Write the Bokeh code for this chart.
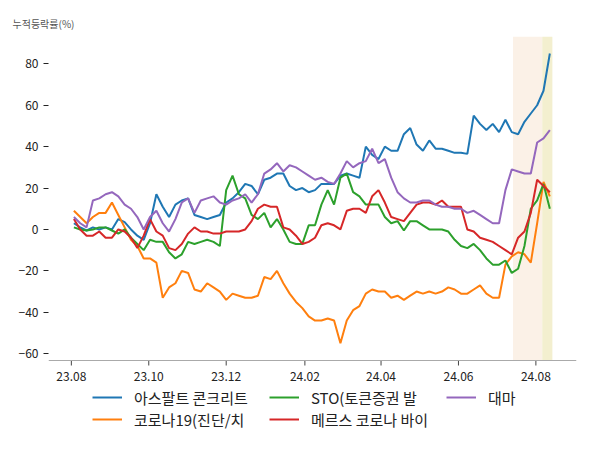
import pandas as pd
from bokeh.plotting import figure
from bokeh.core.properties import value
from bokeh.models import (Range1d, FixedTicker, Legend, LegendItem, BoxAnnotation, Title, Span)
from bokeh.embed import file_html
from bokeh.resources import INLINE

# ---- data (cumulative return %, sampled every 5 days) ----
start_date = "2023-08-03"
step = "5D"

asphalt = [3, 1, -0.5, 1, 0, 1, 0, 5, 3.5, 0, -3, -5, 3, 17, 11, 6, 12, 14, 15, 7,
           6, 5, 6, 7, 13, 15, 18, 22, 21, 17, 24, 25, 27, 27, 21, 19, 20, 18, 19, 22,
           22, 22, 26, 27, 26, 25, 40, 36, 34, 40, 38, 38, 46, 49, 41, 38, 43, 39, 39, 38,
           37, 37, 36.5, 55, 51, 48, 51, 47, 53, 47, 46, 52, 56, 60, 67, 85]
covid = [9, 6, 3, 6, 8, 8, 13, 7, 1, -5, -8, -14, -14, -16, -33, -28, -26, -20, -21, -29,
         -30, -26, -28, -30, -34, -31, -32, -33, -33, -32, -23, -24, -20, -26, -31, -35, -38, -42, -44, -44,
         -43, -44, -55, -44, -39, -37, -31, -29, -30, -30, -33, -32, -34, -32, -30, -31, -30, -31, -30, -28,
         -29, -31, -31, -29, -27, -31, -33, -33, -17, -13, -11, -12, -16, 3, 23, 16]
sto = [1, 0, -0.5, 0, 1, 1, -0.5, -2, 0, -4, -7, -10, -5, -6, -6, -11, -14, -12, -6, -7,
       -6, -5, -6, -8, 19, 26, 17, 15, 7, 5, 8, 1, 5, 0, -6, -7, -7, 2, 2, 12,
       19, 12, 25, 27, 18, 16, 12, 12, 12, 6, 3, 4, -0.5, 4, 4, 2, 0, 0, 0, -1,
       -5, -8, -9, -7, -10, -14, -17, -17, -15, -21, -19, -8, 10, 14, 22, 10]
mers = [5, 0, -3, -3, -1, -4, -4, 0, -1, -4, -9, -3, 5, -1, -3, -9, -10, -7, -2, 1,
        -1, -1, -2, -2, -1, -1, -1, 0, 4, 10, 12, 11, 11, 1, 0, -3, -7, -6, -4, 2,
        3, 2, 0, 9, 10, 10, 8, 16, 19, 13, 6, 5, 4, 8, 12, 13, 13, 12, 14, 11,
        11, 11, 0, -1, -4, -5, -6, -8, -10, -12, -4, -1, 8, 24, 21, 18]
cannabis = [6, 3, 1, 14, 15, 17, 18, 16, 12, 10, 6, 0, 6, 9, 3, -1, 5, 13, 15, 8,
            14, 15, 16, 13, 12, 14, 15, 17, 13, 17, 27, 29, 32, 28, 31, 30, 28, 26, 24, 25,
            23, 22, 27, 33, 30, 32, 33, 39, 32, 34, 25, 18, 15, 13, 13, 14, 14, 12, 11, 11,
            10, 10, 8, 9, 7, 5, 3, 3, 19, 29, 28, 27, 27, 42, 44, 48]

series_names = ["아스팔트 콘크리트", "코로나19(진단/치", "STO(토큰증권 발", "메르스 코로나 바이", "대마"]
series_values = [asphalt, covid, sto, mers, cannabis]
series_colors = ["#1f77b4", "#ff7f0e", "#2ca02c", "#d62728", "#9467bd"]

tick_dates = ["2023-08-01", "2023-10-01", "2023-12-01", "2024-02-01",
              "2024-04-01", "2024-06-01", "2024-08-01"]
tick_labels = ["23.08", "23.10", "23.12", "24.02", "24.04", "24.06", "24.08"]
y_ticks = [-60, -40, -20, 0, 20, 40, 60, 80]

band_starts = ["2024-07-14", "2024-08-06"]
band_ends = ["2024-08-06", "2024-08-14"]
band_colors = ["#fbf1e7", "#f3efcf"]

y_title = "누적등락률(%)"
FONT = "Noto Sans CJK KR"

# ---- view settings ----
X_START, X_END = "2023-07-14", "2024-09-02"
Y_LO, Y_HI = -63.3, 93.2
PLOT_H = 324          # height of the data area (px)
EXTRA_BELOW = 80      # room under the data area for the date axis and legend (px)
units_per_px = (Y_HI - Y_LO) / PLOT_H

# ---- build ----
dates = pd.date_range(start_date, periods=len(asphalt), freq=step)
x_range = Range1d(start=pd.Timestamp(X_START), end=pd.Timestamp(X_END))
y_range = Range1d(start=Y_LO - EXTRA_BELOW * units_per_px, end=Y_HI)

p = figure(x_axis_type="datetime", x_axis_location=None, x_range=x_range, y_range=y_range,
           width=592, height=442, frame_width=528, frame_height=PLOT_H + EXTRA_BELOW,
           min_border_left=48, min_border_top=36, min_border_right=16, min_border_bottom=2,
           output_backend="svg", toolbar_location=None)
p.outline_line_color = None
p.xgrid.grid_line_color = None
p.ygrid.grid_line_color = None
p.background_fill_color = "white"

for s, e, c in zip(band_starts, band_ends, band_colors):
    p.add_layout(BoxAnnotation(left=pd.Timestamp(s), right=pd.Timestamp(e), top=Y_HI, bottom=Y_LO,
                               fill_color=c, fill_alpha=1.0, line_color=None, level="underlay"))

renderers = []
for vals, col in zip(series_values, series_colors):
    r = p.line(dates, vals, line_color=col, line_width=2)
    renderers.append(r)

# y axis
ya = p.yaxis[0]
ya.ticker = FixedTicker(ticks=y_ticks)
ya.axis_line_color = None
ya.major_tick_line_color = "#222222"
ya.major_tick_in = 0
ya.major_tick_out = 5
ya.minor_tick_line_color = None
ya.major_label_standoff = 5
ya.major_label_text_font = FONT
ya.major_label_text_font_size = "12px"
ya.major_label_text_color = "#222222"

# date axis drawn at the bottom of the data area
tick_x = [pd.Timestamp(d) for d in tick_dates]
p.add_layout(Span(location=Y_LO, dimension="width", line_color="#aaaaaa", line_width=1))
p.segment(x0=tick_x, y0=[Y_LO] * len(tick_x), x1=tick_x,
          y1=[Y_LO - 5 * units_per_px] * len(tick_x), line_color="#444444", line_width=1)
p.text(x=tick_x, y=[Y_LO] * len(tick_x), text=tick_labels, y_offset=11,
       text_align="center", text_baseline="top", text_font=value(FONT),
       text_font_size="12px", text_color="#222222")

# legend (row-major order for a 3-column grid)
order = [0, 2, 4, 1, 3]
items = [LegendItem(label=series_names[i], renderers=[renderers[i]]) for i in order]
legend = Legend(items=items, orientation="horizontal", ncols=3, location=(44, 10),
                label_text_font=FONT, label_text_font_size="15px", label_text_color="#222222",
                glyph_width=30, glyph_height=22, label_height=22, label_width=135,
                label_standoff=12, spacing=0, padding=0, margin=0,
                border_line_color=None, background_fill_alpha=0)
p.add_layout(legend)

p.add_layout(Title(text=y_title, align="left", vertical_align="top", offset=-36, standoff=8,
                   text_font=FONT, text_font_size="10px", text_color="#555555",
                   text_font_style="normal"), "above")

open("out.html", "w").write(file_html(p, INLINE))
